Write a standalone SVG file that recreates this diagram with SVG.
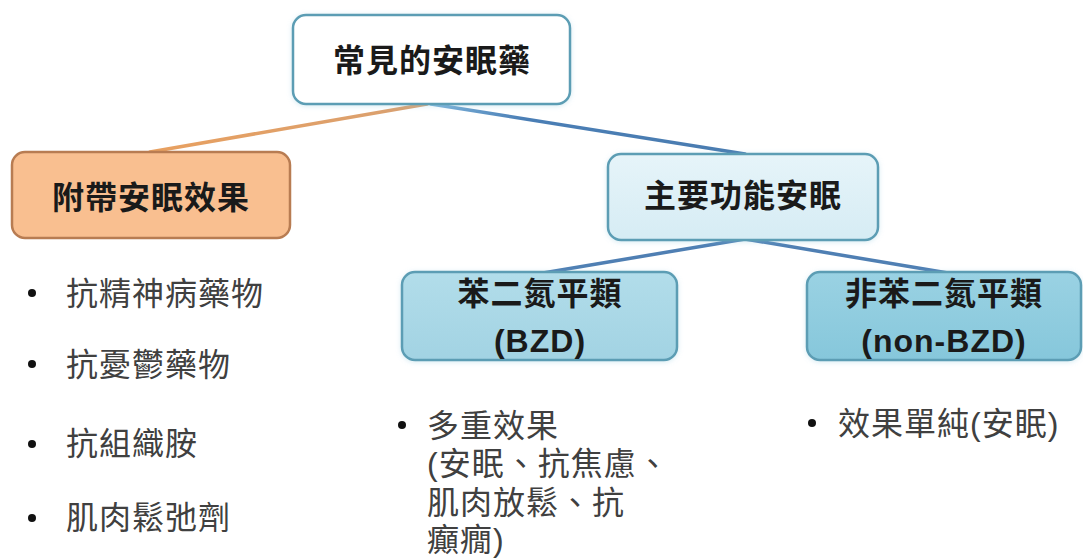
<svg xmlns="http://www.w3.org/2000/svg" width="1083" height="558" viewBox="0 0 1083 558">
<defs>
  <linearGradient id="gOrangeLine" x1="0" y1="0" x2="1" y2="0">
    <stop offset="0" stop-color="#E8A060"/>
    <stop offset="1" stop-color="#D9A070"/>
  </linearGradient>
  <linearGradient id="gBlueLine" x1="0" y1="0" x2="1" y2="0">
    <stop offset="0" stop-color="#7DB3DA"/>
    <stop offset="0.3" stop-color="#4A7EB5"/>
    <stop offset="1" stop-color="#4A7CB0"/>
  </linearGradient>
  <linearGradient id="gMain" x1="0" y1="0" x2="0" y2="1">
    <stop offset="0" stop-color="#E6F4F9"/>
    <stop offset="1" stop-color="#D6ECF4"/>
  </linearGradient>
  <linearGradient id="gBZD" x1="0" y1="0" x2="0" y2="1">
    <stop offset="0" stop-color="#B2DDEA"/>
    <stop offset="1" stop-color="#A2D3E3"/>
  </linearGradient>
  <linearGradient id="gNon" x1="0" y1="0" x2="0" y2="1">
    <stop offset="0" stop-color="#9AD2E3"/>
    <stop offset="1" stop-color="#86C7DB"/>
  </linearGradient>
  <filter id="glow" x="-10%" y="-20%" width="120%" height="140%">
    <feGaussianBlur in="SourceAlpha" stdDeviation="2.5"/>
    <feOffset dx="0" dy="1" result="b"/>
    <feFlood flood-color="#8CC8DC" flood-opacity="0.35"/>
    <feComposite in2="b" operator="in"/>
    <feMerge><feMergeNode/><feMergeNode in="SourceGraphic"/></feMerge>
  </filter>
</defs>
<style>
  .node text { font-family: "Noto Sans CJK TC", "Noto Sans CJK SC", sans-serif; font-weight: bold; font-size: 32px; fill: #1A1A1A; text-anchor: middle; letter-spacing: 1px; }
  .node text.lat { font-family: "Liberation Sans", "Noto Sans CJK TC", sans-serif; }
  .blue { stroke: #5C9DB4; stroke-width: 2.5; }
  .list text { font-family: "Liberation Sans", "Noto Sans CJK TC", "Noto Sans CJK SC", sans-serif; font-size: 32px; fill: #404040; letter-spacing: 1px; }
  .list circle { fill: #111111; }
  .conn line { stroke-width: 3.5; stroke-linecap: round; }
</style>
<rect width="1083" height="558" fill="#FFFFFF"/>

<g id="connectors" class="conn">
  <line x1="427" y1="104" x2="150" y2="152" stroke="url(#gOrangeLine)"/>
  <line x1="431" y1="104" x2="745" y2="154" stroke="url(#gBlueLine)"/>
  <line x1="745" y1="239" x2="543" y2="273" stroke="#4F7FB3"/>
  <line x1="745" y1="239" x2="948" y2="273" stroke="#4F7FB3"/>
</g>

<g id="node-root" class="node">
  <rect x="293" y="15" width="277" height="89" rx="13" fill="#FFFFFF" class="blue" filter="url(#glow)"/>
  <text x="432" y="72">常見的安眠藥</text>
</g>

<g id="node-side" class="node">
  <rect x="12" y="152" width="278" height="86" rx="13" fill="#F9BF90" stroke="#B87C52" stroke-width="2.5"/>
  <text x="151" y="209">附帶安眠效果</text>
</g>

<g id="node-main" class="node">
  <rect x="608" y="154" width="270" height="86" rx="13" fill="url(#gMain)" class="blue" filter="url(#glow)"/>
  <text x="743" y="207">主要功能安眠</text>
</g>

<g id="node-bzd" class="node">
  <rect x="402" y="272" width="275" height="88" rx="13" fill="url(#gBZD)" class="blue" filter="url(#glow)"/>
  <text x="540" y="305">苯二氮平類</text>
  <text class="lat" x="540" y="352">(BZD)</text>
</g>

<g id="node-nonbzd" class="node">
  <rect x="807" y="272" width="274" height="88" rx="13" fill="url(#gNon)" class="blue" filter="url(#glow)"/>
  <text x="944" y="305">非苯二氮平類</text>
  <text class="lat" x="944" y="352">(non-BZD)</text>
</g>

<g id="list-side" class="list">
  <circle cx="32" cy="293" r="4"/>
  <text x="66" y="305">抗精神病藥物</text>
  <circle cx="32" cy="364" r="4"/>
  <text x="66" y="376">抗憂鬱藥物</text>
  <circle cx="32" cy="444" r="4"/>
  <text x="66" y="455">抗組織胺</text>
  <circle cx="32" cy="518" r="4"/>
  <text x="66" y="529">肌肉鬆弛劑</text>
</g>

<g id="list-bzd" class="list">
  <circle cx="402" cy="425" r="4"/>
  <text x="427" y="437">多重效果</text>
  <text x="427" y="475">(安眠、抗焦慮、</text>
  <text x="427" y="514">肌肉放鬆、抗</text>
  <text x="427" y="551">癲癇)</text>
</g>

<g id="list-nonbzd" class="list">
  <circle cx="812" cy="423" r="4"/>
  <text x="838" y="435">效果單純(安眠)</text>
</g>
</svg>
